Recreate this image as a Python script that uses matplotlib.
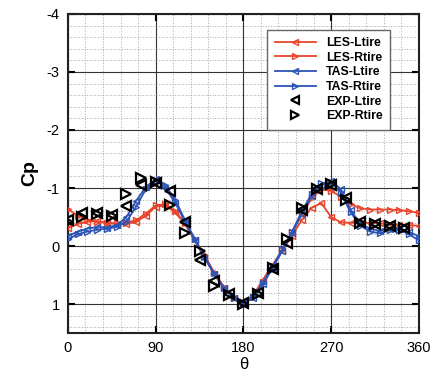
import matplotlib
matplotlib.use("Agg")
import matplotlib.pyplot as plt
from matplotlib.ticker import MultipleLocator

plt.rcParams['font.family'] = ['Liberation Sans', 'DejaVu Sans']
plt.rcParams['axes.unicode_minus'] = False

# Surface pressure coefficient around the tires
theta_cfd = list(range(0, 361, 10))

les_ltire = [-0.31, -0.38, -0.42, -0.43, -0.40, -0.38, -0.38, -0.42, -0.52, -0.68,
             -0.70, -0.58, -0.38, -0.10, 0.18, 0.48, 0.72, 0.90, 0.98, 0.85,
             0.58, 0.32, 0.08, -0.18, -0.45, -0.66, -0.74, -0.50, -0.41, -0.40,
             -0.40, -0.40, -0.39, -0.38, -0.37, -0.36, -0.35]
les_rtire = [-0.64, -0.52, -0.45, -0.42, -0.40, -0.39, -0.40, -0.45, -0.56, -0.70,
             -0.72, -0.60, -0.40, -0.12, 0.15, 0.45, 0.70, 0.90, 0.98, 0.88,
             0.62, 0.35, 0.06, -0.25, -0.55, -0.82, -0.98, -0.95, -0.85, -0.72,
             -0.65, -0.63, -0.63, -0.63, -0.62, -0.60, -0.57]
tas_ltire = [-0.17, -0.25, -0.30, -0.33, -0.32, -0.36, -0.50, -0.78, -1.02, -1.15,
             -1.00, -0.75, -0.42, -0.10, 0.20, 0.48, 0.72, 0.90, 0.98, 0.90,
             0.66, 0.38, 0.08, -0.22, -0.56, -0.86, -1.06, -1.12, -0.98, -0.62,
             -0.38, -0.30, -0.26, -0.30, -0.30, -0.24, -0.17]
tas_rtire = [-0.12, -0.20, -0.25, -0.28, -0.30, -0.33, -0.42, -0.68, -0.98, -1.12,
             -1.05, -0.80, -0.45, -0.13, 0.18, 0.47, 0.72, 0.90, 0.98, 0.88,
             0.63, 0.35, 0.05, -0.25, -0.60, -0.90, -1.08, -1.10, -0.92, -0.58,
             -0.35, -0.25, -0.22, -0.27, -0.28, -0.20, -0.10]

theta_exp = list(range(0, 346, 15))
exp_ltire = [-0.45, -0.57, -0.57, -0.53, -0.69, -1.05, -1.08, -0.95, -0.42, 0.24,
             0.60, 0.82, 0.98, 0.80, 0.40, -0.05, -0.62, -0.98, -1.05, -0.82,
             -0.42, -0.38, -0.34, -0.32]
exp_rtire = [-0.42, -0.50, -0.55, -0.52, -0.90, -1.18, -1.10, -0.70, -0.22, 0.08,
             0.68, 0.84, 1.00, 0.82, 0.38, -0.12, -0.66, -0.98, -1.07, -0.80,
             -0.40, -0.38, -0.35, -0.31]

x_ticks = [0, 90, 180, 270, 360]
y_ticks = [-4, -3, -2, -1, 0, 1]

RED = '#e8452c'
BLUE = '#2d55b4'

fig = plt.figure(figsize=(4.35, 3.76), dpi=100)
ax = fig.add_axes([0.156, 0.114, 0.807, 0.849])

ax.plot(theta_cfd, les_ltire, color=RED, lw=1.3, marker='<', ms=5,
        mfc='none', mec=RED, mew=1.0, label='LES-Ltire', zorder=3)
ax.plot(theta_cfd, les_rtire, color=RED, lw=1.3, marker='>', ms=5,
        mfc='none', mec=RED, mew=1.0, label='LES-Rtire', zorder=3)
ax.plot(theta_cfd, tas_ltire, color=BLUE, lw=1.3, marker='<', ms=5,
        mfc='none', mec=BLUE, mew=1.0, label='TAS-Ltire', zorder=4)
ax.plot(theta_cfd, tas_rtire, color=BLUE, lw=1.3, marker='>', ms=5,
        mfc='none', mec=BLUE, mew=1.0, label='TAS-Rtire', zorder=4)
ax.plot(theta_exp, exp_ltire, ls='none', marker='<', ms=7.5, mfc='none',
        mec='black', mew=1.6, label='EXP-Ltire', zorder=5)
ax.plot(theta_exp, exp_rtire, ls='none', marker='>', ms=7.5, mfc='none',
        mec='black', mew=1.6, label='EXP-Rtire', zorder=5)

ax.set_xlim(0, 360)
ax.set_ylim(1.5, -4)
ax.set_xticks(x_ticks)
ax.set_yticks(y_ticks)
ax.xaxis.set_minor_locator(MultipleLocator(18))
ax.yaxis.set_minor_locator(MultipleLocator(0.2))
ax.grid(which='major', color='#333333', lw=0.8, ls='-')
ax.grid(which='minor', color='#999999', lw=0.6, ls=(0, (1.2, 2.0)))
ax.set_axisbelow(True)

ax.tick_params(which='major', direction='in', length=5, width=1.5,
               top=True, right=True, labelsize=10.5, pad=6)
ax.tick_params(which='minor', length=0)
for s in ax.spines.values():
    s.set_linewidth(1.5)
    s.set_color('#222222')

ax.set_xlabel('θ', fontsize=12, labelpad=1)
ax.set_ylabel('Cp', fontsize=14, fontweight='bold', labelpad=6)

leg = ax.legend(loc='upper right', bbox_to_anchor=(0.935, 0.97),
                prop={'weight': 'bold', 'size': 8.8}, frameon=True,
                fancybox=False, edgecolor='#666666', framealpha=1,
                handlelength=3.4, labelspacing=0.22, borderpad=0.6,
                handletextpad=0.8, markerscale=0.8)
leg.get_frame().set_linewidth(1.0)

fig.savefig('out.png', dpi=100, facecolor='white')
